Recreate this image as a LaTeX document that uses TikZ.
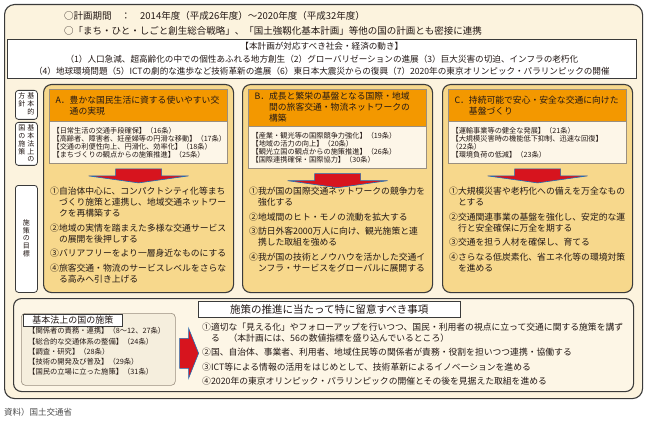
\documentclass[tikz,border=0pt]{standalone}
\usepackage{fontspec}
\setmainfont{Noto Sans CJK JP}
\usepackage{xcolor}
\usetikzlibrary{
	calc,
	positioning
}

\definecolor{waku}{HTML}{3A3A3A}
\definecolor{bgcream}{HTML}{FCF3DE}
\definecolor{colgold}{HTML}{F7D88C}
\definecolor{hdrorange}{HTML}{F39800}
\definecolor{subcream}{HTML}{FDF6E8}
\definecolor{subline}{HTML}{9A8F80}
\definecolor{lowcream}{HTML}{FDF6E6}
\definecolor{kihonfill}{HTML}{F5EEDD}
\definecolor{mojicol}{HTML}{231815}
\definecolor{yajired}{HTML}{D7141E}
\definecolor{yajiblue}{HTML}{1D6FB8}

\tikzset{
	outer/.style={draw=waku, line width=1.1pt, fill=bgcream, rounded corners=10pt},
	colbox/.style={draw=waku, line width=1.1pt, fill=colgold, rounded corners=8pt,
		minimum width=190pt, minimum height=208pt},
	hdr/.style={fill=hdrorange, draw=subline, line width=0.4pt, minimum width=178pt,
		minimum height=32pt, text width=166pt, inner xsep=6pt, align=left,
		font=\fontsize{8.8}{11}\selectfont, text=mojicol},
	sub/.style={fill=subcream, draw=subline, line width=0.5pt, minimum width=178pt,
		minimum height=42pt, text width=172pt, inner xsep=3pt, align=left,
		font=\fontsize{7.2}{8}\selectfont, text=mojicol},
	itemtxt/.style={anchor=north west, inner sep=0pt, align=left,
		font=\fontsize{8.8}{11}\selectfont, text=mojicol},
	tag/.style={draw=waku, fill=white, line width=0.8pt, rounded corners=3pt,
		inner sep=0pt, font=\fontsize{7}{7.6}\selectfont, text=mojicol},
	titlebox/.style={draw=waku, fill=white, line width=0.7pt, inner sep=0pt, text=mojicol},
	darr/.style={fill=yajired, draw=yajiblue, line width=0.6pt, line join=miter}
}
\renewcommand{\arraystretch}{0.95}

\begin{document}
\begin{tikzpicture}[x=1pt, y=-1pt]
	% 画布
	\useasboundingbox (0,0) rectangle (647,422);
	
	% 外框
	\node[outer, minimum width=638pt, minimum height=394pt, anchor=north west] (frame) at (4,4) {};
	
	% 计划期间
	\node[anchor=west, inner sep=0pt, font=\fontsize{9.5}{11}\selectfont, text=mojicol] (kikan) at (64,16)
		{○計画期間　：　2014年度（平成26年度）～2020年度（平成32年度）};
	\node[anchor=west, inner sep=0pt, font=\fontsize{9.5}{11}\selectfont, text=mojicol] (renkei) at (64,31)
		{○「まち・ひと・しごと創生総合戦略」、「国土強靱化基本計画」等他の国の計画とも密接に連携};
	
	% 社会经济动向
	\node[titlebox, minimum width=629pt, minimum height=39pt, anchor=north west, align=center,
		font=\fontsize{8.6}{12.5}\selectfont] (ugoki) at (7,39)
		{【本計画が対応すべき社会・経済の動き】\\
		（1）人口急減、超高齢化の中での個性あふれる地方創生（2）グローバリゼーションの進展（3）巨大災害の切迫、インフラの老朽化\\
		（4）地球環境問題（5）ICTの劇的な進歩など技術革新の進展（6）東日本大震災からの復興（7）2020年の東京オリンピック・パラリンピックの開催};
	
	% 左侧标签
	\node[tag, minimum width=22pt, minimum height=29pt, anchor=north west] (hoshin) at (15,90)
		{\begin{tabular}{@{}c@{\hspace{2pt}}c@{}}方&基\\針&本\\&的\end{tabular}};
	\node[tag, minimum width=22pt, minimum height=43pt, anchor=north west] (sesaku) at (15,122)
		{\begin{tabular}{@{}c@{\hspace{2pt}}c@{}}国&基\\の&本\\施&法\\策&上\\&の\end{tabular}};
	\node[tag, minimum width=22pt, minimum height=107pt, anchor=north west] (mokuhyo) at (15,185)
		{\begin{tabular}{@{}c@{}}施\\策\\の\\目\\標\end{tabular}};
	
	% 三个方向
	\foreach \c/\x in {A/43,B/242,C/442}
		\node[colbox, anchor=north west] (col\c) at (\x,84) {};
	
	\node[hdr, below=5pt of colA.north] (hdrA)
		{A．豊かな国民生活に資する使いやすい交\\\phantom{A．}通の実現};
	\node[hdr, below=5pt of colB.north] (hdrB)
		{B．成長と繁栄の基盤となる国際・地域\\\phantom{B．}間の旅客交通・物流ネットワークの\\\phantom{B．}構築};
	\node[hdr, below=5pt of colC.north] (hdrC)
		{C．持続可能で安心・安全な交通に向けた\\\phantom{C．}基盤づくり};
	
	\node[sub, below=0pt of hdrA] (subA)
		{【日常生活の交通手段確保】（16条）\\
		【高齢者、障害者、妊産婦等の円滑な移動】（17条）\\
		【交通の利便性向上、円滑化、効率化】（18条）\\
		【まちづくりの観点からの施策推進】（25条）};
	\node[sub, below=0pt of hdrB] (subB)
		{【産業・観光等の国際競争力強化】（19条）\\
		【地域の活力の向上】（20条）\\
		【観光立国の観点からの施策推進】（26条）\\
		【国際連携確保・国際協力】（30条）};
	\node[sub, below=0pt of hdrC] (subC)
		{【運輸事業等の健全な発展】（21条）\\
		【大規模災害時の機能低下抑制、迅速な回復】\\
		（22条）\\
		【環境負荷の低減】（23条）};
	
	% 向下箭头
	\foreach \c in {A,B,C} {
		\coordinate (ya\c) at ($(sub\c.south)+(0,5)$);
		\draw[darr] (ya\c) ++(-23,0) -- ++(46,0) -- ++(0,7) -- ++(27,0) -- ++(-50,7)
			-- ++(-50,-7) -- ++(27,0) -- cycle;
	}
	
	% 施策目标
	\node[itemtxt] (mokuA) at ($(colA.north west)+(7,103)$)
		{①自治体中心に、コンパクトシティ化等まち\\
		\hspace*{1em}づくり施策と連携し、地域交通ネットワー\\
		\hspace*{1em}クを再構築する\\[3.5pt]
		②地域の実情を踏まえた多様な交通サービス\\
		\hspace*{1em}の展開を後押しする\\[3.5pt]
		③バリアフリーをより一層身近なものにする\\[3.5pt]
		④旅客交通・物流のサービスレベルをさらな\\
		\hspace*{1em}る高みへ引き上げる};
	\node[itemtxt] (mokuB) at ($(colB.north west)+(7,103)$)
		{①我が国の国際交通ネットワークの競争力を\\
		\hspace*{1em}強化する\\[3.5pt]
		②地域間のヒト・モノの流動を拡大する\\[3.5pt]
		③訪日外客2000万人に向け、観光施策と連\\
		\hspace*{1em}携した取組を強める\\[3.5pt]
		④我が国の技術とノウハウを活かした交通イ\\
		\hspace*{1em}ンフラ・サービスをグローバルに展開する};
	\node[itemtxt] (mokuC) at ($(colC.north west)+(7,103)$)
		{①大規模災害や老朽化への備えを万全なもの\\
		\hspace*{1em}とする\\[3.5pt]
		②交通関連事業の基盤を強化し、安定的な運\\
		\hspace*{1em}行と安全確保に万全を期する\\[3.5pt]
		③交通を担う人材を確保し、育てる\\[3.5pt]
		④さらなる低炭素化、省エネ化等の環境対策\\
		\hspace*{1em}を進める};
	
	% 下方框
	\node[outer, fill=lowcream, rounded corners=8pt, minimum width=620pt, minimum height=93pt,
		anchor=north west] (suishin) at (13,298) {};
	\node[draw=subline, fill=kihonfill, line width=0.6pt, rounded corners=4pt, minimum width=154pt,
		minimum height=72pt, anchor=north west] (kihon) at (21,313) {};
	\node[titlebox, minimum width=99pt, minimum height=12pt, anchor=north west,
		font=\fontsize{9}{10}\selectfont] (kihontitle) at (23,314) {基本法上の国の施策};
	\node[itemtxt, font=\fontsize{7.3}{10.2}\selectfont] (kihonlist) at (28,327.5)
		{【関係者の責務・連携】（8～12、27条）\\
		【総合的な交通体系の整備】（24条）\\
		【調査・研究】（28条）\\
		【技術の開発及び普及】（29条）\\
		【国民の立場に立った施策】（31条）};
	
	% 向右箭头
	\coordinate (yaR) at ($(kihon.east)+(4,4)$);
	\draw[darr] (yaR) ++(0,-15) -- ++(9,0) -- ++(0,-10) -- ++(10,25) -- ++(-10,25)
		-- ++(0,-10) -- ++(-9,0) -- cycle;
	
	% 留意事项
	\node[titlebox, minimum width=262pt, minimum height=16pt, anchor=north west,
		font=\fontsize{10.5}{12}\selectfont] (ryuititle) at (198,301) {施策の推進に当たって特に留意すべき事項};
	\node[itemtxt] (ryuilist) at (202,322.5)
		{①適切な「見える化」やフォローアップを行いつつ、国民・利用者の視点に立って交通に関する施策を講ず\\
		\hspace*{1em}る　（本計画には、56の数値指標を盛り込んでいるところ）\\[3.5pt]
		②国、自治体、事業者、利用者、地域住民等の関係者が責務・役割を担いつつ連携・協働する\\[3.5pt]
		③ICT等による情報の活用をはじめとして、技術革新によるイノベーションを進める\\[3.5pt]
		④2020年の東京オリンピック・パラリンピックの開催とその後を見据えた取組を進める};
	
	% 资料来源
	\node[anchor=west, inner sep=0pt, font=\fontsize{8.5}{10}\selectfont, text=black!70] (shiryo) at (4,412)
		{資料）国土交通省};
\end{tikzpicture}
\end{document}
